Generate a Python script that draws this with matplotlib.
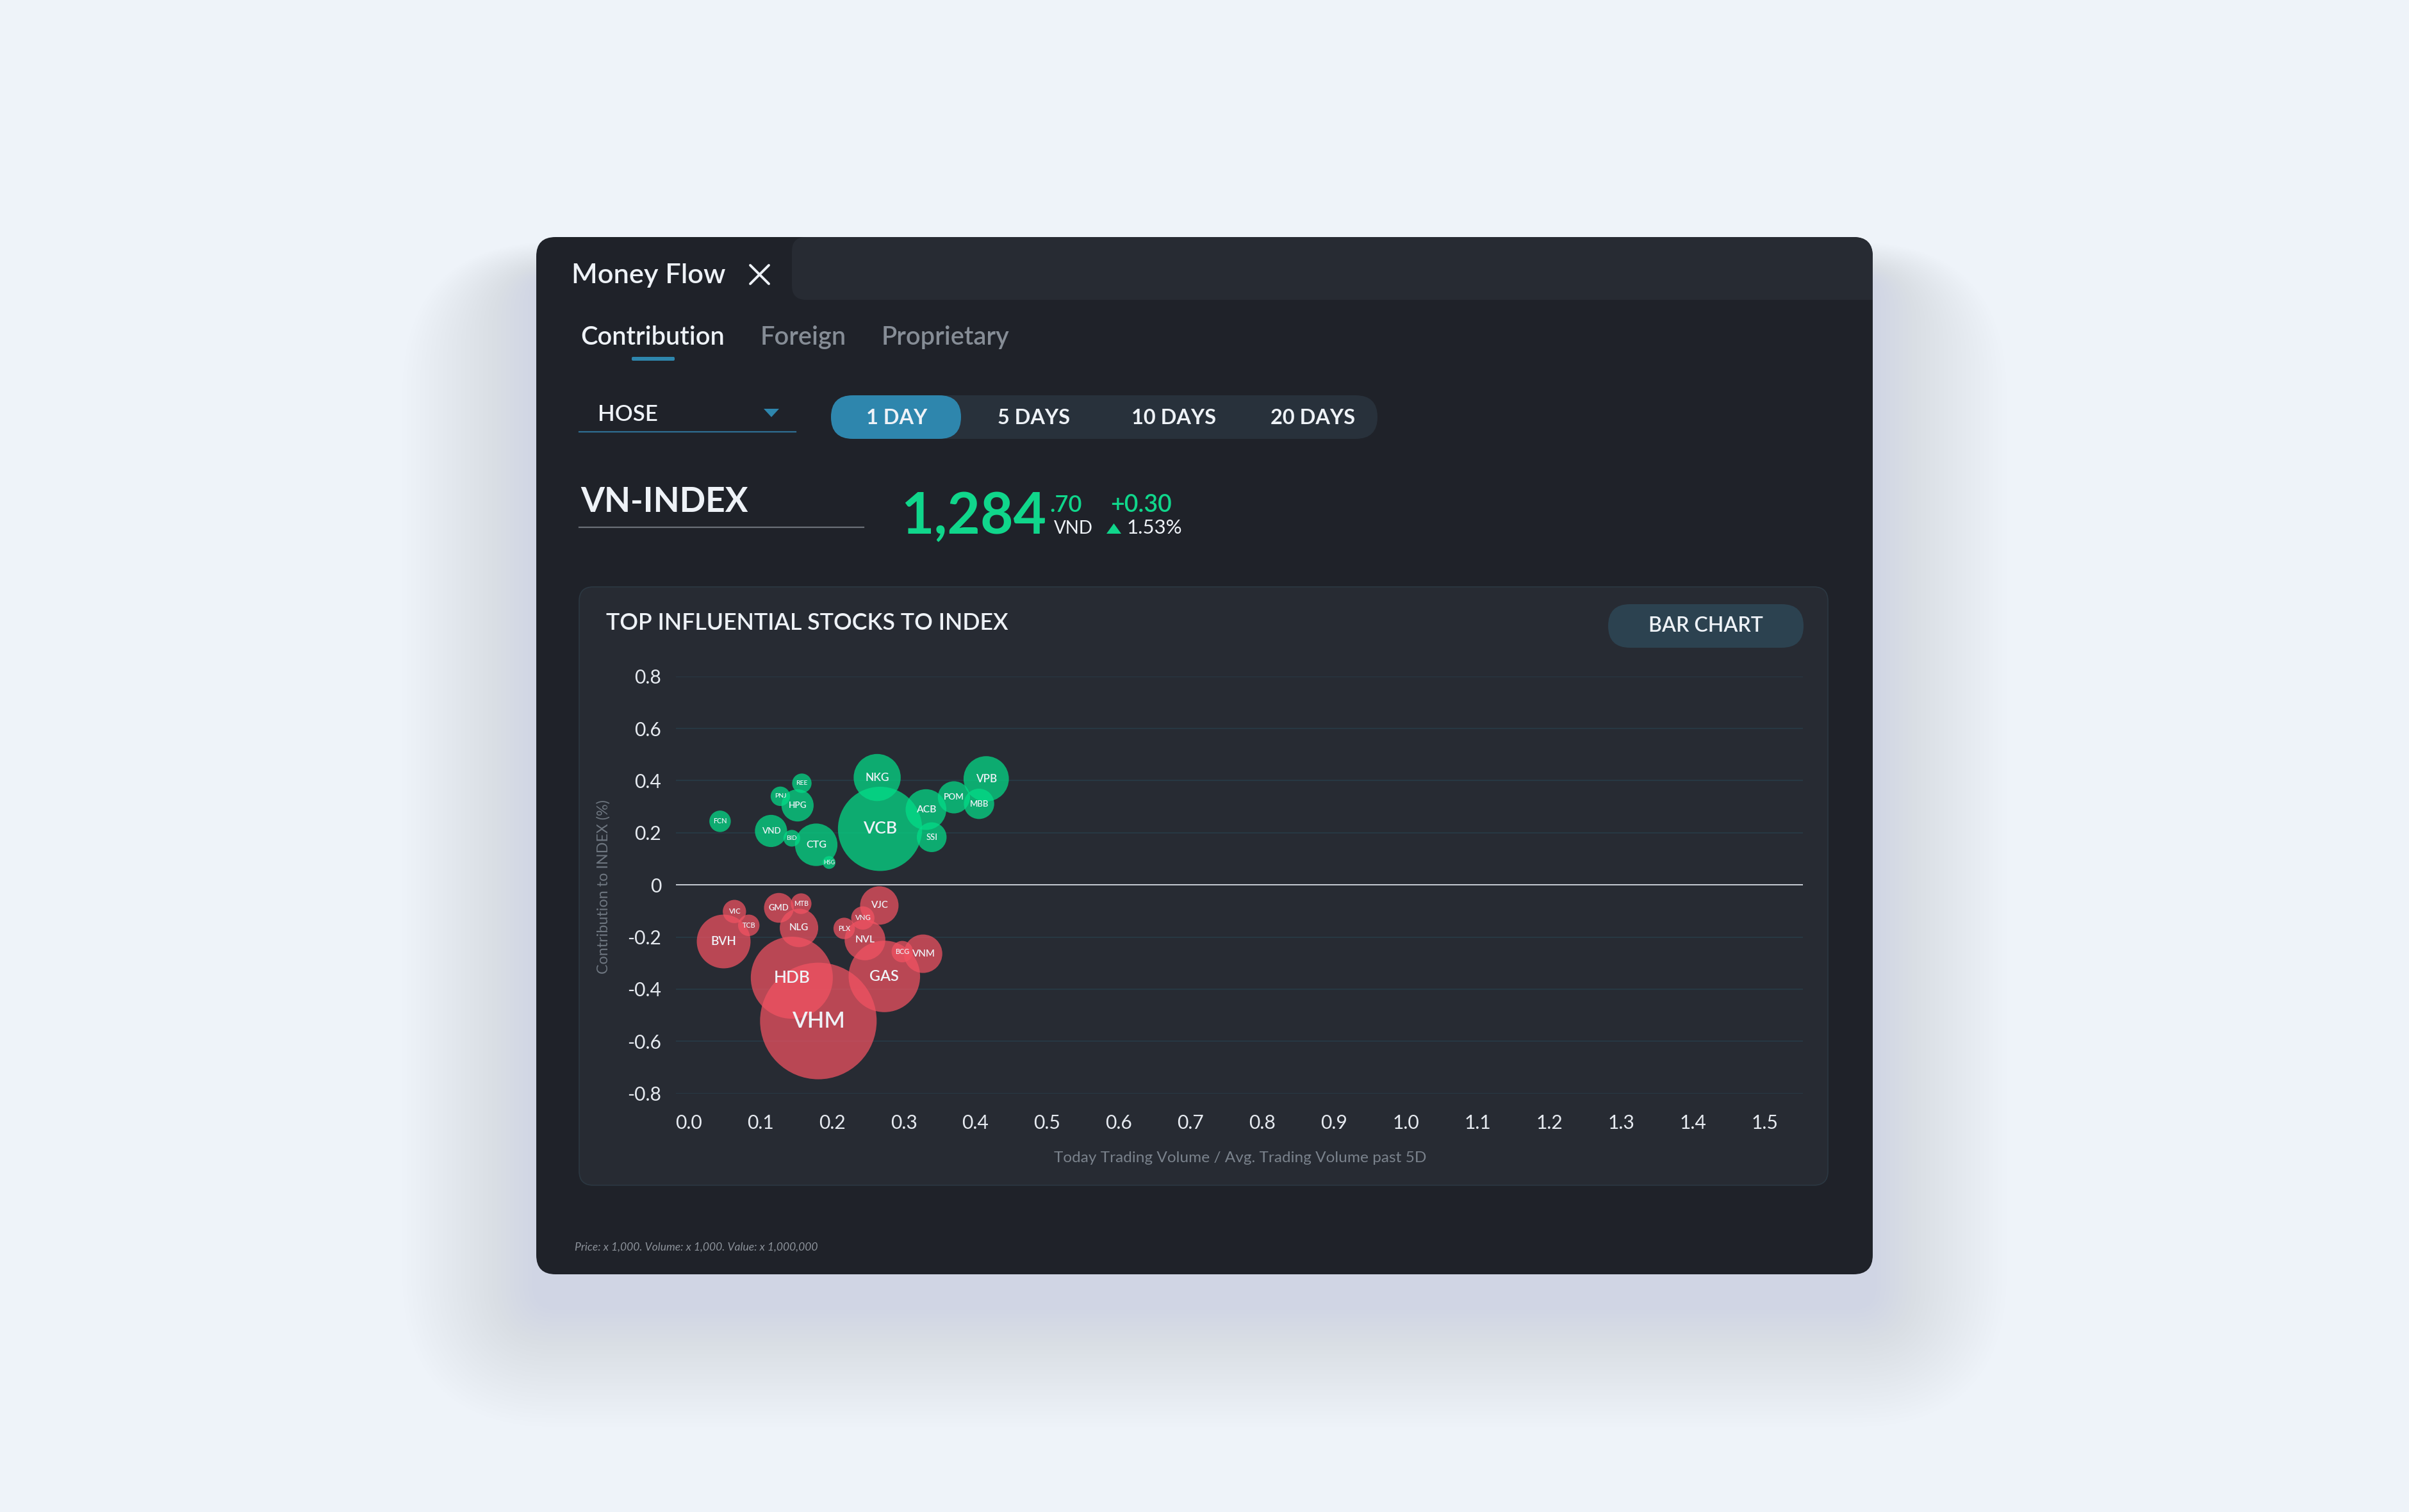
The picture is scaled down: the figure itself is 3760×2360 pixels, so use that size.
import matplotlib
matplotlib.use("Agg")
import matplotlib.pyplot as plt
from matplotlib.patches import FancyBboxPatch, Polygon
import numpy as np

plt.rcParams['font.family'] = ['Lato', 'DejaVu Sans']

# ---------------- data ----------------
up_tickers = ["FCN", "VND", "BID", "CTG", "HSG", "PNJ", "HPG", "REE", "NKG", "VCB",
              "ACB", "SSI", "POM", "MBB", "VPB"]
up_ratio = [0.044, 0.115, 0.144, 0.178, 0.196, 0.128, 0.152, 0.158, 0.263, 0.267,
            0.331, 0.339, 0.370, 0.405, 0.415]
up_contrib = [0.244, 0.207, 0.179, 0.154, 0.086, 0.340, 0.305, 0.390, 0.412, 0.215,
              0.289, 0.183, 0.336, 0.311, 0.407]
up_value = [2.8, 6.3, 1.7, 11.0, 1.0, 2.3, 6.3, 2.3, 13.5, 43.2,
            10.1, 5.4, 6.3, 5.6, 12.5]

down_tickers = ["VIC", "TCB", "BVH", "GMD", "MTB", "NLG", "HDB", "VHM", "VJC", "VNG",
                "PLX", "NVL", "GAS", "BCG", "VNM"]
down_ratio = [0.064, 0.084, 0.049, 0.126, 0.157, 0.154, 0.144, 0.181, 0.266, 0.243,
              0.217, 0.246, 0.273, 0.298, 0.327]
down_contrib = [-0.102, -0.155, -0.217, -0.088, -0.072, -0.165, -0.356, -0.522, -0.079, -0.127,
                -0.167, -0.211, -0.351, -0.256, -0.264]
down_value = [3.3, 2.8, 17.6, 5.4, 2.6, 9.0, 41.0, 82.8, 9.0, 3.3,
              2.8, 10.1, 31.1, 2.8, 9.0]

x_ticks = [0.0, 0.1, 0.2, 0.3, 0.4, 0.5, 0.6, 0.7, 0.8, 0.9, 1.0, 1.1, 1.2, 1.3, 1.4, 1.5]
x_ticklabels = ["0.0", "0.1", "0.2", "0.3", "0.4", "0.5", "0.6", "0.7", "0.8", "0.9",
                "1.0", "1.1", "1.2", "1.3", "1.4", "1.5"]
y_ticks = [0.8, 0.6, 0.4, 0.2, 0.0, -0.2, -0.4, -0.6, -0.8]
y_ticklabels = ["0.8", "0.6", "0.4", "0.2", "0", "-0.2", "-0.4", "-0.6", "-0.8"]

tabs = ["Contribution", "Foreign", "Proprietary"]
periods = ["1 DAY", "5 DAYS", "10 DAYS", "20 DAYS"]
index_name = "VN-INDEX"
index_int = "1,284"
index_dec = ".70"
index_change = "+0.30"
index_pct = "1.53%"

# ---------------- figure ----------------
W, H = 3760, 2360
DPI = 200
fig = plt.figure(figsize=(W / DPI, H / DPI), dpi=DPI)
fig.patch.set_facecolor("#eef3f9")

bg = fig.add_axes([0, 0, 1, 1])
bg.set_xlim(0, W)
bg.set_ylim(H, 0)
bg.axis("off")

BG_CARD = "#1f2229"
BG_PANEL = "#272b33"
BLUE = "#2e86ad"
GREEN_TXT = "#10d68b"
WHITE = "#eef2f7"
GRAY = "#868d96"

def rrect(x0, y0, x1, y1, r, color, z=1, **kw):
    p = FancyBboxPatch((x0, y0), x1 - x0, y1 - y0,
                       boxstyle=f"round,pad=0,rounding_size={r}",
                       facecolor=color, edgecolor=kw.pop("ec", "none"),
                       linewidth=kw.pop("lw", 0), zorder=z, **kw)
    bg.add_patch(p)
    return p

# soft bluish shadow
for i in range(30):
    pad = 6 + i * 7
    rrect(837 - pad, 370 - pad * 0.25 + 60, 2923 + pad, 1989 + pad * 0.9 + 50, 30 + pad,
          "#9db9e4", z=0.5, alpha=0.003)

card = rrect(837, 370, 2923, 1989, 30, BG_CARD, z=1)
hdr = rrect(1236, 370, 2990, 468, 22, BG_PANEL, z=1.1)
hdr.set_clip_path(card)

# tab title
bg.text(892, 442, "Money Flow", fontsize=15.6, color=WHITE, fontweight="semibold",
        va="baseline", ha="left", zorder=3)
bg.plot([1171, 1200], [414, 443], color=WHITE, lw=1.4, solid_capstyle="round", zorder=3)
bg.plot([1171, 1200], [443, 414], color=WHITE, lw=1.4, solid_capstyle="round", zorder=3)

# sub tabs
tab_x = [906, 1187, 1376]
for i, (t, tx) in enumerate(zip(tabs, tab_x)):
    bg.text(tx, 538, t, fontsize=14.3, color=WHITE if i == 0 else GRAY,
            fontweight="semibold", va="baseline", ha="left", zorder=3)
rrect(986, 557, 1053, 563, 2, BLUE, z=3)

# dropdown
bg.text(933, 657, "HOSE", fontsize=12.5, color=WHITE, fontweight="semibold",
        va="baseline", ha="left", zorder=3)
bg.add_patch(Polygon([[1192, 638], [1216, 638], [1204, 651]], closed=True,
                     facecolor=BLUE, edgecolor="none", zorder=3))
bg.plot([904, 1242], [674, 674], color="#2f6f93", lw=0.8, zorder=3)

# segmented control
rrect(1297, 617, 2150, 685, 34, "#28313b", z=2)
rrect(1297, 617, 1500, 685, 34, BLUE, z=2.1)
period_x = [1400, 1614, 1832, 2049]
for p, px in zip(periods, period_x):
    bg.text(px, 652, p, fontsize=11.7, color=WHITE, fontweight="bold",
            va="center", ha="center", zorder=3)

# index
bg.text(906, 799, index_name, fontsize=19.2, color=WHITE, fontweight="bold",
        va="baseline", ha="left", zorder=3)
bg.plot([904, 1348], [823, 823], color="#6b7078", lw=0.8, zorder=3)
bg.text(1406, 833, index_int, fontsize=32, color=GREEN_TXT, fontweight="bold",
        va="baseline", ha="left", zorder=3)
bg.text(1638, 799, index_dec, fontsize=13, color=GREEN_TXT, fontweight="semibold",
        va="baseline", ha="left", zorder=3)
bg.text(1645, 833, "VND", fontsize=10, color=WHITE, va="baseline", ha="left", zorder=3)
bg.text(1733, 799, index_change, fontsize=13.5, color=GREEN_TXT, fontweight="semibold",
        va="baseline", ha="left", zorder=3)
bg.add_patch(Polygon([[1727, 833], [1750, 833], [1738.5, 817]], closed=True,
                     facecolor=GREEN_TXT, edgecolor="none", zorder=3))
bg.text(1758, 833, index_pct, fontsize=11.2, color=WHITE, va="baseline", ha="left", zorder=3)

# chart panel
rrect(904, 916, 2853, 1850, 22, BG_PANEL, z=2, ec="#2c3842", lw=0.6)
bg.text(946, 983, "TOP INFLUENTIAL STOCKS TO INDEX", fontsize=12.9, color=WHITE,
        fontweight="semibold", va="baseline", ha="left", zorder=3)
rrect(2510, 943, 2815, 1011, 34, "#2c4250", z=3)
bg.text(2662, 977, "BAR CHART", fontsize=11.5, color=WHITE, fontweight="semibold",
        va="center", ha="center", zorder=4)

bg.text(942, 1384, "Contribution to INDEX (%)", fontsize=8.4, color="#6e7680",
        rotation=90, va="center", ha="center", zorder=3)
bg.text(1936, 1808, "Today Trading Volume / Avg. Trading Volume past 5D", fontsize=8.8,
        color="#7a828c", va="center", ha="center", zorder=3)

bg.text(897, 1947, "Price: x 1,000. Volume: x 1,000. Value: x 1,000,000", fontsize=6.3,
        color="#8c929a", style="italic", va="center", ha="left", zorder=3)

# ---------------- bubble chart ----------------
ax_l, ax_r = 1054.5, 2814.5
ax_t, ax_b = 1055.7, 1706.7
ax = fig.add_axes([ax_l / W, 1 - ax_b / H, (ax_r - ax_l) / W, (ax_b - ax_t) / H])
ax.set_facecolor("none")
ax.set_xlim(-0.018, 1.554)
ax.set_ylim(-0.8, 0.8)
for s in ax.spines.values():
    s.set_visible(False)
ax.set_xticks(x_ticks)
ax.set_xticklabels(x_ticklabels)
ax.set_yticks(y_ticks)
ax.set_yticklabels(y_ticklabels)
ax.tick_params(length=0, colors="#e6eaf0", labelsize=10.8)
ax.tick_params(axis="y", pad=8)
ax.tick_params(axis="x", pad=11.5)
for yt in y_ticks:
    if yt == 0:
        ax.axhline(yt, color="#c9ced6", lw=0.7, zorder=1)
    else:
        ax.axhline(yt, color="#283b47", lw=0.6, zorder=1)

size_k = 51.84  # points^2 per value unit
GREEN = "#03de88"
RED = "#f25362"
ax.scatter(up_ratio, up_contrib, s=np.array(up_value) * size_k, c=GREEN, alpha=0.72,
           linewidths=0, zorder=2, clip_on=False)
ax.scatter(down_ratio, down_contrib, s=np.array(down_value) * size_k, c=RED, alpha=0.72,
           linewidths=0, zorder=2, clip_on=False)

def label_size(v):
    r = 10 * np.sqrt(v)
    return 2.0 + 0.115 * r

for t, xv, yv, v in zip(up_tickers + down_tickers, up_ratio + down_ratio,
                        up_contrib + down_contrib, up_value + down_value):
    ax.text(xv, yv, t, fontsize=label_size(v), color=WHITE, fontweight="semibold",
            ha="center", va="center", zorder=4)

fig.savefig("out.png", dpi=DPI, facecolor=fig.get_facecolor())
